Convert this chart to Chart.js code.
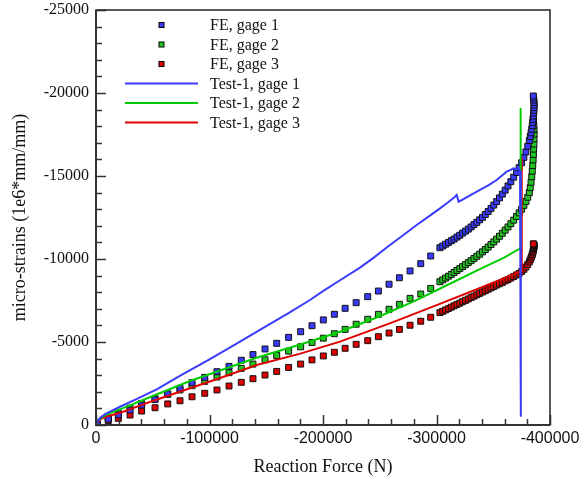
<!DOCTYPE html>
<html><head><meta charset="utf-8">
<script src="https://cdn.jsdelivr.net/npm/chart.js@4.4.1/dist/chart.umd.min.js"></script>
<style>html,body{margin:0;padding:0;background:#fff}canvas{display:block}</style>
</head><body>
<canvas id="c" width="582" height="480"></canvas>
<script>
const seriesLabels = ['FE, gage 1','FE, gage 2','FE, gage 3','Test-1, gage 1','Test-1, gage 2','Test-1, gage 3'];
const xTickValues = [0,-100000,-200000,-300000,-400000];
const yTickValues = [0,-5000,-10000,-15000,-20000,-25000];

// FE results: shared reaction force at each load step
const feForce = [-1150,-10800,-19700,-30000,-40200,-52000,-63200,-74000,-84600,-95800,-106600,-117200,-128000,-138300,-148900,-159200,-169700,-180300,-190300,-200300,-210000,-219500,-229200,-239400,-248800,-258200,-267300,-276700,-286100,-294900,
-303000,-305500,-308000,-310500,-313000,-315500,-318000,-320500,-323000,-325500,-328000,-330500,-333000,-335500,-338000,-340500,-343000,-345500,-348000,-350500,-353000,-355500,-358000,-360500,-363000,-365500,-368000,-370500,
-372800,-375000,-377000,-378800,-380400,
-381800,-382600,-383300,-383900,-384400,-384800,-385100,-385400,-385600,-385800,-385900,-386000,-385900,-385700,-385500,-385300];
const feGage1 = [-60,-350,-620,-900,-1200,-1530,-1870,-2210,-2550,-2870,-3210,-3530,-3900,-4240,-4580,-4920,-5280,-5620,-5980,-6330,-6670,-7030,-7370,-7730,-8070,-8480,-8870,-9280,-9720,-10180,
-10680,-10780,-10890,-10990,-11100,-11200,-11320,-11430,-11560,-11680,-11800,-11930,-12070,-12210,-12360,-12510,-12680,-12860,-13050,-13250,-13460,-13680,-13910,-14150,-14400,-14660,-14930,-15210,
-15500,-15800,-16120,-16450,-16790,
-17140,-17380,-17600,-17820,-18030,-18230,-18420,-18610,-18790,-18960,-19120,-19280,-19430,-19570,-19700,-19820];
const feGage2 = [-50,-420,-740,-1020,-1300,-1580,-1850,-2110,-2370,-2630,-2890,-3150,-3410,-3670,-3930,-4190,-4450,-4710,-4970,-5230,-5500,-5760,-6070,-6370,-6670,-6970,-7270,-7630,-7890,-8230,
-8630,-8740,-8850,-8960,-9070,-9190,-9310,-9420,-9540,-9660,-9780,-9900,-10030,-10160,-10290,-10430,-10570,-10720,-10870,-11030,-11200,-11370,-11550,-11740,-11930,-12130,-12340,-12560,
-12780,-13000,-13230,-13470,-13720,
-14000,-14300,-14620,-14950,-15290,-15630,-15970,-16300,-16620,-16930,-17230,-17520,-17800,-18050,-18280,-18480];
const feGage3 = [-40,-260,-400,-600,-840,-1040,-1270,-1460,-1700,-1910,-2110,-2350,-2570,-2790,-3010,-3230,-3470,-3670,-3920,-4160,-4380,-4620,-4860,-5080,-5320,-5540,-5760,-6010,-6250,-6490,
-6770,-6850,-6930,-7010,-7100,-7180,-7260,-7340,-7430,-7510,-7590,-7680,-7760,-7840,-7930,-8010,-8090,-8180,-8260,-8340,-8430,-8510,-8590,-8680,-8760,-8850,-8940,-9040,
-9130,-9250,-9380,-9520,-9670,
-9830,-9950,-10060,-10170,-10270,-10370,-10460,-10550,-10630,-10700,-10760,-10810,-10850,-10880,-10900,-10910];

// Test-1 measurements
const test1Force = [0,-1500,-4000,-8000,-15000,-21100,-37000,-53500,-75000,-100000,-125000,-150000,-170000,-188500,-200000,-215000,-232600,-245000,-259000,-270000,-282500,-293000,-303100,-310000,-316300,-317800,-319500,-322200,-330000,-338300,-346000,-353000,-358000,-361800,-365000,-367700,-370000,-372000,-373600,-374200,-374400];
const test1Strain = [0,-250,-450,-650,-900,-1100,-1600,-2150,-3000,-3950,-4950,-5950,-6750,-7530,-8060,-8720,-9480,-10100,-10840,-11400,-12050,-12550,-13050,-13400,-13750,-13860,-13450,-13550,-13850,-14160,-14450,-14760,-15050,-15260,-15350,-15460,-15420,-15450,-15320,-8000,-500];
const test2Force = [0,-1500,-4000,-8000,-15000,-23800,-50000,-82800,-110000,-141500,-180000,-215000,-250000,-280000,-310000,-340000,-360000,-373600,-374000,-374300];
const test2Strain = [0,-250,-420,-580,-800,-1020,-1750,-2650,-3300,-4050,-4850,-5620,-6550,-7450,-8450,-9450,-10100,-10640,-15000,-19100];
const test3Force = [0,-1500,-4000,-8000,-15000,-24000,-50000,-82800,-110000,-141600,-180000,-215000,-260000,-303000,-340000,-373500,-375000,-375100];
const test3Strain = [0,-200,-350,-480,-620,-800,-1450,-2210,-2850,-3610,-4300,-5020,-6150,-7300,-8300,-9240,-9260,-16150];

const pts = (xs, ys) => xs.map((x, i) => ({x: x, y: ys[i]}));
const serif = "'Liberation Serif','Times New Roman',serif";
const sans = "'Liberation Sans',Arial,sans-serif";

const frameTicks = {
  id: 'frameTicks',
  afterDatasetsDraw(chart) {
    const {ctx, chartArea: a, scales: {x, y}} = chart;
    ctx.save();
    ctx.strokeStyle = '#333';
    ctx.lineWidth = 1.5;
    for (let v = 0; v >= -25000; v -= 1000) {
      const py = Math.round(y.getPixelForValue(v)) + 0.5;
      const len = (v % 5000 === 0) ? 10 : 6;
      ctx.beginPath(); ctx.moveTo(a.left, py); ctx.lineTo(a.left + len, py); ctx.stroke();
    }
    for (let v = 0; v >= -400000; v -= 20000) {
      const px = Math.round(x.getPixelForValue(v)) + 0.5;
      const len = (v % 100000 === 0) ? 10 : 6;
      ctx.beginPath(); ctx.moveTo(px, a.bottom); ctx.lineTo(px, a.bottom - len); ctx.stroke();
    }
    ctx.strokeStyle = '#222';
    ctx.lineWidth = 1.5;
    ctx.strokeRect(a.left, a.top, a.right - a.left, a.bottom - a.top);
    ctx.lineWidth = 2;
    ctx.strokeStyle = '#333';
    ctx.beginPath(); ctx.moveTo(a.left, a.top); ctx.lineTo(a.left, a.bottom); ctx.lineTo(a.right, a.bottom); ctx.stroke();
    ctx.restore();
  }
};

const insideLegend = {
  id: 'insideLegend',
  afterDraw(chart) {
    const ctx = chart.ctx;
    ctx.save();
    ctx.font = '16px ' + serif;
    ctx.textBaseline = 'middle';
    ctx.textAlign = 'left';
    chart.data.datasets.forEach((ds, i) => {
      const yy = 25 + i * 19.5;
      if (ds.showLine) {
        ctx.strokeStyle = ds.borderColor; ctx.lineWidth = 2;
        ctx.beginPath(); ctx.moveTo(125, yy); ctx.lineTo(198, yy); ctx.stroke();
      } else {
        ctx.fillStyle = ds.backgroundColor;
        ctx.fillRect(159, yy - 2.5, 5, 5);
        ctx.strokeStyle = '#000'; ctx.lineWidth = 1;
        ctx.strokeRect(159, yy - 2.5, 5, 5);
      }
      ctx.fillStyle = '#111';
      ctx.fillText(ds.label, 210, yy + 1);
    });
    ctx.restore();
  }
};

const feStyle = (color) => ({backgroundColor: color, borderColor: '#111', borderWidth: 1, pointStyle: 'rect', pointRadius: 4.2, pointHoverRadius: 4.2, showLine: false, order: 2});
const lineStyle = (color) => ({borderColor: color, backgroundColor: color, borderWidth: 2, pointRadius: 0, showLine: true, fill: false, tension: 0, order: 1});

new Chart(document.getElementById('c'), {
  type: 'scatter',
  data: {
    datasets: [
      Object.assign({label: seriesLabels[0], data: pts(feForce, feGage1)}, feStyle('#3a3aff')),
      Object.assign({label: seriesLabels[1], data: pts(feForce, feGage2)}, feStyle('#22c422')),
      Object.assign({label: seriesLabels[2], data: pts(feForce, feGage3)}, feStyle('#dd0000')),
      Object.assign({label: seriesLabels[3], data: pts(test1Force, test1Strain)}, lineStyle('#3b3bff')),
      Object.assign({label: seriesLabels[4], data: pts(test2Force, test2Strain)}, lineStyle('#00cc00')),
      Object.assign({label: seriesLabels[5], data: pts(test3Force, test3Strain)}, lineStyle('#dd0000'))
    ]
  },
  options: {
    responsive: false,
    animation: false,
    devicePixelRatio: 1,
    layout: {padding: {left: 0, right: 32, top: 10, bottom: 0}},
    plugins: {legend: {display: false}, tooltip: {enabled: false}},
    scales: {
      x: {
        type: 'linear', min: -400000, max: 0, reverse: true,
        afterBuildTicks(s) { s.ticks = xTickValues.map(v => ({value: v})); },
        afterFit(s) { s.height = 55; s.paddingLeft = 0; s.paddingRight = 0; },
        grid: {display: false, drawTicks: false}, border: {display: false},
        ticks: {font: {family: sans, size: 16}, color: '#111', padding: 4, maxRotation: 0, autoSkip: false, callback: v => String(v)},
        title: {display: true, text: 'Reaction Force (N)', font: {family: serif, size: 18}, color: '#111', padding: {top: 0, bottom: 2}}
      },
      y: {
        type: 'linear', min: -25000, max: 0, reverse: true,
        afterBuildTicks(s) { s.ticks = yTickValues.map(v => ({value: v})); },
        afterFit(s) { s.width = 96; s.paddingTop = 0; s.paddingBottom = 0; },
        grid: {display: false, drawTicks: false}, border: {display: false},
        ticks: {font: {family: serif, size: 16}, color: '#111', padding: 7, autoSkip: false, callback: v => String(v)},
        title: {display: true, text: 'micro-strains (1e6*mm/mm)', font: {family: serif, size: 18}, color: '#111', padding: {top: 9, bottom: 0}}
      }
    }
  },
  plugins: [frameTicks, insideLegend]
});
</script>
</body></html>
